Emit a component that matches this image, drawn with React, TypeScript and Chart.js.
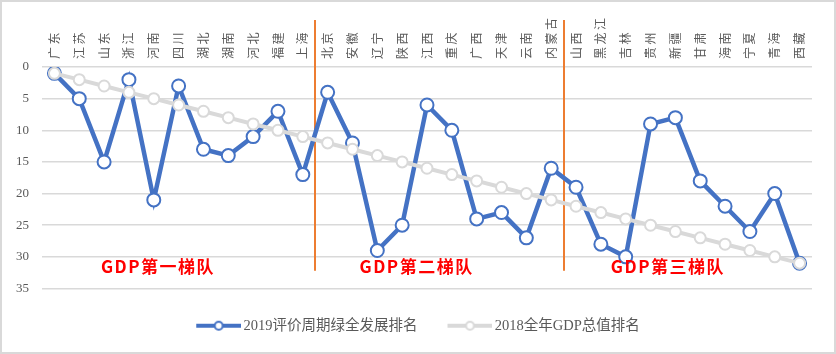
import { useEffect, useRef } from "react";
import { Chart, registerables } from "chart.js";
Chart.register(...registerables);

const provinces = ["广东", "江苏", "山东", "浙江", "河南", "四川", "湖北", "湖南", "河北", "福建", "上海", "北京", "安徽", "辽宁", "陕西", "江西", "重庆", "广西", "天津", "云南", "内蒙古", "山西", "黑龙江", "吉林", "贵州", "新疆", "甘肃", "海南", "宁夏", "青海", "西藏"];
const greenRank2019 = [1, 5, 15, 2, 21, 3, 13, 14, 11, 7, 17, 4, 12, 29, 25, 6, 10, 24, 23, 27, 16, 19, 28, 30, 9, 8, 18, 22, 26, 20, 31];
const gdpRank2018 = [1, 2, 3, 4, 5, 6, 7, 8, 9, 10, 11, 12, 13, 14, 15, 16, 17, 18, 19, 20, 21, 22, 23, 24, 25, 26, 27, 28, 29, 30, 31];
const seriesNames = ["2019评价周期绿全发展排名", "2018全年GDP总值排名"];
const yTickValues = [0, 5, 10, 15, 20, 25, 30, 35];
const tierNames = ["GDP第一梯队", "GDP第二梯队", "GDP第三梯队"];
const tierLabelCenters = [4.17, 14.58, 24.7];
const tierLabelRank = 31.6;
const tierBreaks = [10.5, 20.5];
const tierBreakBottomRank = 32.2;

const BLUE = "#4472C4";
const GRAY = "#D9D9D9";
const TEXT = "#595959";

export default function App() {
  const ref = useRef<HTMLCanvasElement>(null);
  useEffect(() => {
    const canvas = ref.current!;
    const makeIcon = (color: string) => {
      const c = document.createElement("canvas");
      c.width = 50;
      c.height = 12;
      const g = c.getContext("2d")!;
      g.strokeStyle = color;
      g.lineWidth = 4;
      g.beginPath();
      g.moveTo(5, 6);
      g.lineTo(50, 6);
      g.stroke();
      g.beginPath();
      g.arc(27.5, 6, 4, 0, Math.PI * 2);
      g.fillStyle = "#fff";
      g.fill();
      g.lineWidth = 2;
      g.stroke();
      return c;
    };
    const icons = [makeIcon(BLUE), makeIcon(GRAY)];

    const tierPlugin = {
      id: "tiers",
      beforeDatasetsDraw(chart: any) {
        const { ctx, scales, chartArea } = chart;
        const x = scales.x;
        const y = scales.y;
        ctx.save();
        ctx.strokeStyle = "#ED7D31";
        ctx.lineWidth = 2;
        for (const b of tierBreaks) {
          const px = Math.round(x.getPixelForValue(b));
          ctx.beginPath();
          ctx.moveTo(px, chartArea.top - 47);
          ctx.lineTo(px, y.getPixelForValue(tierBreakBottomRank));
          ctx.stroke();
        }
        ctx.restore();
      },
      afterDatasetsDraw(chart: any) {
        const { ctx, scales } = chart;
        const x = scales.x;
        const y = scales.y;
        ctx.save();
        ctx.fillStyle = "#FF0000";
        ctx.font = 'bold 17px "Noto Sans CJK SC", sans-serif';
        (ctx as any).letterSpacing = "1.5px";
        ctx.textAlign = "center";
        ctx.textBaseline = "middle";
        tierNames.forEach((t, i) => {
          ctx.fillText(t, x.getPixelForValue(tierLabelCenters[i]), y.getPixelForValue(tierLabelRank));
        });
        ctx.restore();
        // spacing for the vertical province labels, drawn next (z > 0)
        (ctx as any).letterSpacing = "2.5px";
      },
      afterDraw(chart: any) {
        const { ctx } = chart;
        (ctx as any).letterSpacing = "0px";
        ctx.save();
        ctx.strokeStyle = "#D9D9D9";
        ctx.lineWidth = 2;
        ctx.strokeRect(1, 1, chart.width - 2, chart.height - 2);
        ctx.restore();
      },
    };

    const chart = new Chart(canvas, {
      type: "line",
      data: {
        labels: provinces,
        datasets: [
          {
            label: seriesNames[0],
            data: greenRank2019,
            borderColor: BLUE,
            borderWidth: 4.5,
            pointRadius: 6.5,
            pointBackgroundColor: "#fff",
            pointBorderColor: BLUE,
            pointBorderWidth: 2,
            tension: 0,
            order: 1,
          },
          {
            label: seriesNames[1],
            data: gdpRank2018,
            borderColor: GRAY,
            borderWidth: 4,
            pointRadius: 5.5,
            pointBackgroundColor: "#fff",
            pointBorderColor: GRAY,
            pointBorderWidth: 2,
            tension: 0,
            order: 0,
          },
        ],
      },
      options: {
        responsive: false,
        animation: false,
        layout: { padding: { left: 0, right: 0, top: 0, bottom: 11 } },
        plugins: {
          tooltip: { enabled: false },
          legend: {
            position: "bottom",
            labels: {
              usePointStyle: true,
              pointStyleWidth: 40,
              padding: 30,
              color: TEXT,
              font: { size: 14.5, family: '"Liberation Serif", "Noto Sans CJK SC", serif' },
              generateLabels(ch: any) {
                const items = Chart.defaults.plugins.legend.labels.generateLabels(ch);
                items.sort((a: any, b: any) => a.datasetIndex - b.datasetIndex);
                return items.map((it: any) => ({ ...it, pointStyle: icons[it.datasetIndex], fontColor: TEXT }));
              },
            },
          },
        },
        scales: {
          x: {
            type: "category",
            position: "top",
            offset: true,
            grid: { display: false, drawTicks: false },
            border: { display: false },
            ticks: {
              z: 1,
              autoSkip: false,
              maxRotation: 90,
              minRotation: 90,
              padding: 8,
              color: TEXT,
              font: { size: 12, family: '"Noto Sans CJK SC", sans-serif', lineHeight: 0.001 },
            },
            afterFit: (s: any) => {
              s.height = 67;
            },
          },
          y: {
            reverse: true,
            min: 0,
            max: 35,
            afterBuildTicks: (s: any) => {
              s.ticks = yTickValues.map((v) => ({ value: v }));
            },
            grid: { color: GRAY, lineWidth: 1.5, drawTicks: false },
            border: { display: false },
            ticks: {
              padding: 13,
              color: TEXT,
              font: { size: 13, family: '"Liberation Serif", serif' },
            },
            afterFit: (s: any) => {
              s.width = 42;
            },
          },
          yr: {
            position: "right",
            display: true,
            grid: { display: false, drawTicks: false },
            border: { display: false },
            ticks: { display: false },
            afterFit: (s: any) => {
              s.width = 24;
            },
          },
        },
      },
      plugins: [tierPlugin],
    } as any);
    return () => chart.destroy();
  }, []);
  return (
    <div style={{ position: "absolute", left: 0, top: 0, width: 836, height: 354 }}>
      <canvas ref={ref} width={836} height={354} style={{ display: "block" }} />
    </div>
  );
}
